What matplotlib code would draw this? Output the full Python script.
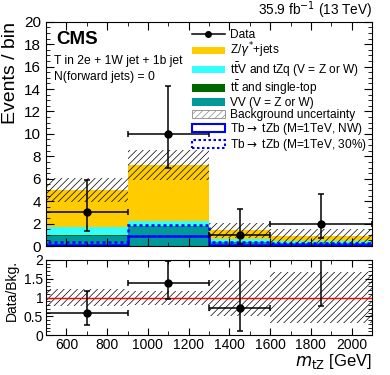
import numpy as np
import matplotlib
matplotlib.use("Agg")
import matplotlib.pyplot as plt
from matplotlib.patches import Patch
from matplotlib.lines import Line2D
from matplotlib.ticker import MultipleLocator

plt.rcParams['font.family'] = ['Liberation Sans', 'DejaVu Sans']
plt.rcParams['hatch.color'] = '#bbbbbb'
plt.rcParams['hatch.linewidth'] = 0.5

# binning in m_tZ [GeV]
edges = [500, 900, 1300, 1600, 2100]

# background stack (events / bin)
vv = [0.90, 1.75, 0.35, 0.25]
ttbar = [0.05, 0.05, 0.03, 0.02]
ttv = [0.71, 0.45, 0.20, 0.15]
zjets = [3.34, 4.99, 0.82, 0.48]
bkg_unc = [1.10, 1.35, 0.67, 0.60]

# signal
sig_nw = [0.12, 0.90, 0.05, 0.06]
sig_30 = [0.35, 1.90, 0.35, 0.30]

# data with asymmetric (Poisson) errors
data = [3, 10, 1, 2]
data_lo = [1.63, 3.08, 0.83, 1.29]
data_hi = [2.92, 4.27, 2.30, 2.64]

edges = np.array(edges, dtype=float)
centers = 0.5 * (edges[:-1] + edges[1:])
halfw = 0.5 * (edges[1:] - edges[:-1])
widths = edges[1:] - edges[:-1]

col_z = '#ffcc00'
col_ttv = '#33ffff'
col_tt = '#006600'
col_vv = '#009999'
hatch = '/////'

fig = plt.figure(figsize=(3.9, 3.75), dpi=100)
ax = fig.add_axes([0.118, 0.344, 0.836, 0.598])
axr = fig.add_axes([0.118, 0.106, 0.836, 0.201])

# stacked backgrounds
bottom = np.zeros(4)
for vals, c in [(vv, col_vv), (ttbar, col_tt), (ttv, col_ttv), (zjets, col_z)]:
    ax.bar(edges[:-1], vals, width=widths, bottom=bottom, align='edge',
           color=c, linewidth=0)
    bottom = bottom + np.array(vals)
total = bottom

# background uncertainty
ax.bar(edges[:-1], 2 * np.array(bkg_unc), width=widths, bottom=total - np.array(bkg_unc),
       align='edge', fill=False, hatch=hatch, linewidth=0)

# signals as step lines
ax.stairs(sig_nw, edges, color='#0000ff', linewidth=1.8)
ax.stairs(sig_30, edges, color='#0000ff', linewidth=1.8, linestyle=(0, (1.2, 1.2)))

# data
ax.errorbar(centers, data, xerr=halfw, yerr=[data_lo, data_hi], fmt='o', color='black',
            markersize=5, elinewidth=1.1, capsize=2, capthick=1.1)

ax.set_xlim(500, 2100)
ax.set_ylim(0, 20)
ax.set_ylabel('Events / bin', fontsize=14, loc='top')
ax.yaxis.set_major_locator(MultipleLocator(2))
ax.yaxis.set_minor_locator(MultipleLocator(0.5))
ax.xaxis.set_major_locator(MultipleLocator(200))
ax.xaxis.set_minor_locator(MultipleLocator(100))
ax.tick_params(labelbottom=False)

ax.text(0.03, 0.96, 'CMS', transform=ax.transAxes, fontsize=13.5, fontweight='bold',
        va='top', ha='left')
ax.text(0.025, 0.825, 'T in 2e + 1W jet + 1b jet', transform=ax.transAxes, fontsize=8.7,
        va='center', ha='left')
ax.text(0.025, 0.755, 'N(forward jets) = 0', transform=ax.transAxes, fontsize=8.7,
        va='center', ha='left')
ax.text(1.0, 1.004, '35.9 fb$^{-1}$ (13 TeV)', transform=ax.transAxes, fontsize=9.8,
        va='bottom', ha='right')

handles = [
    Line2D([], [], color='black', marker='o', markersize=4, linewidth=1.1),
    Patch(facecolor=col_z, edgecolor='none'),
    Patch(facecolor=col_ttv, edgecolor='none'),
    Patch(facecolor=col_tt, edgecolor='none'),
    Patch(facecolor=col_vv, edgecolor='none'),
    Patch(facecolor='white', edgecolor='#888888', hatch=hatch, linewidth=0.6),
    Patch(facecolor='white', edgecolor='#0000ff', linewidth=1.5),
    Patch(facecolor='white', edgecolor='#0000ff', linewidth=1.5, linestyle=(0, (1.2, 1.2))),
]
labels = [
    'Data',
    r'Z/$\gamma^{*}$+jets',
    r't$\bar{\mathrm{t}}$V and tZq (V = Z or W)',
    r't$\bar{\mathrm{t}}$ and single-top',
    'VV (V = Z or W)',
    'Background uncertainty',
    r'Tb$\rightarrow$ tZb (M=1TeV, NW)',
    r'Tb$\rightarrow$ tZb (M=1TeV, 30%)',
]
ax.legend(handles, labels, loc='upper right', bbox_to_anchor=(1.0, 0.99), frameon=False,
          fontsize=8.6, handlelength=2.8, handleheight=0.6, labelspacing=0.0,
          handletextpad=0.45, borderaxespad=0.2, borderpad=0.2)

# ratio panel
ratio = np.array(data) / total
r_lo = np.array(data_lo) / total
r_hi = np.array(data_hi) / total
unc_rel = np.array(bkg_unc) / total
axr.bar(edges[:-1], 2 * unc_rel, width=widths, bottom=1 - unc_rel, align='edge',
        fill=False, hatch=hatch, linewidth=0)
axr.axhline(1, color='red', linewidth=1.0)
axr.errorbar(centers, ratio, xerr=halfw, yerr=[r_lo, r_hi], fmt='o', color='black',
             markersize=5, elinewidth=1.1, capsize=2, capthick=1.1)
axr.set_xlim(500, 2100)
axr.set_ylim(0, 2)
axr.yaxis.set_minor_locator(MultipleLocator(0.1))
axr.xaxis.set_major_locator(MultipleLocator(200))
axr.xaxis.set_minor_locator(MultipleLocator(100))
axr.set_yticks([0, 0.5, 1, 1.5, 2])
axr.set_yticklabels(['0', '0.5', '1', '1.5', '2'])
axr.set_ylabel('Data/Bkg.', fontsize=10, loc='top')
axr.set_xlabel(r'$m_{\mathrm{tZ}}$ [GeV]', fontsize=12, loc='right', labelpad=0)

for a in (ax, axr):
    a.tick_params(which='both', direction='in', top=True, right=True)
    a.tick_params(which='major', length=6, labelsize=11)
    a.tick_params(which='minor', length=3)
axr.tick_params(which='major', labelsize=10, length=5, pad=2)

fig.align_ylabels([ax, axr])
fig.savefig('out.png', dpi=100)
